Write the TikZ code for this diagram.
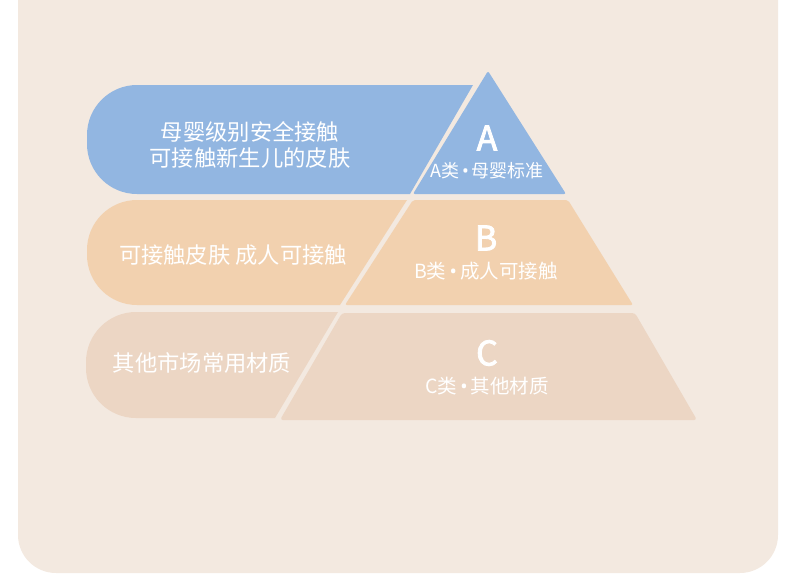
\documentclass[tikz,border=0pt]{standalone}
\usepackage{fontspec}
\setmainfont{Noto Sans CJK SC}
\newfontfamily\latinfont{Noto Sans}
\newfontfamily\gradefont[FakeBold=2.5]{Noto Sans CJK SC}
\usetikzlibrary{positioning}
\definecolor{panelbg}{HTML}{F3E9E0}
\definecolor{tierA}{HTML}{92B6E1}
\definecolor{tierB}{HTML}{F2D1AF}
\definecolor{tierC}{HTML}{ECD6C4}
\newcommand{\dotsep}{\,{\latinfont •}\,}

\begin{document}
\begin{tikzpicture}[x=1pt, y=1pt,
    pilltxt/.style={text=white, font=\fontsize{22.3}{26.5}\selectfont, align=center, inner sep=0pt},
    grade/.style={text=white, font=\gradefont\fontsize{34}{34}\selectfont, inner sep=0pt},
    gradesub/.style={text=white, font=\fontsize{19.5}{19.5}\selectfont, inner sep=0pt}]
    \useasboundingbox (0,0) rectangle (790,-582);
    \begin{scope}
        \clip (0,0) rectangle (790,-582);
        \fill[panelbg, rounded corners=38pt] (18,40) rectangle (778,-573);
    \end{scope}
    % left bars
    \fill[tierA] (473,-85) -- (410,-194) -- (137,-194) arc[start angle=270, end angle=180, radius=50]
        -- (87,-135) arc[start angle=180, end angle=90, radius=50] -- cycle;
    \fill[tierB] (407,-200) -- (340,-305) -- (137,-305) arc[start angle=270, end angle=180, radius=50]
        -- (87,-250) arc[start angle=180, end angle=90, radius=50] -- cycle;
    \fill[tierC] (338,-312) -- (275,-418) -- (136,-418) arc[start angle=270, end angle=180, radius=50]
        -- (86,-362) arc[start angle=180, end angle=90, radius=50] -- cycle;
    % pyramid
    \fill[tierA, rounded corners=2pt] (488,-71) -- (566,-194) -- (413,-194) -- cycle;
    \fill[tierB, rounded corners=2pt] (413,-200) -- (568,-200) -- (633,-305) -- (345,-305) -- cycle;
    \fill[tierC, rounded corners=3pt] (342,-313) -- (635,-313) -- (697,-420) -- (280,-420) -- cycle;
    % texts
    \node[pilltxt] (atxt) at (250,-145) {母婴级别安全接触\\可接触新生儿的皮肤};
    \node[grade] (aletter) at (487,-138) {A};
    \node[gradesub, font=\fontsize{18}{18}\selectfont, below=12pt of aletter] (asub) {A类\dotsep 母婴标准};
    \node[pilltxt] (btxt) at (233,-255) {可接触皮肤 成人可接触};
    \node[grade] (bletter) at (486,-238) {B};
    \node[gradesub, below=11pt of bletter] (bsub) {B类\dotsep 成人可接触};
    \node[pilltxt] (ctxt) at (202,-363) {其他市场常用材质};
    \node[grade] (cletter) at (487,-353) {C};
    \node[gradesub, below=11pt of cletter] (csub) {C类\dotsep 其他材质};
\end{tikzpicture}
\end{document}
